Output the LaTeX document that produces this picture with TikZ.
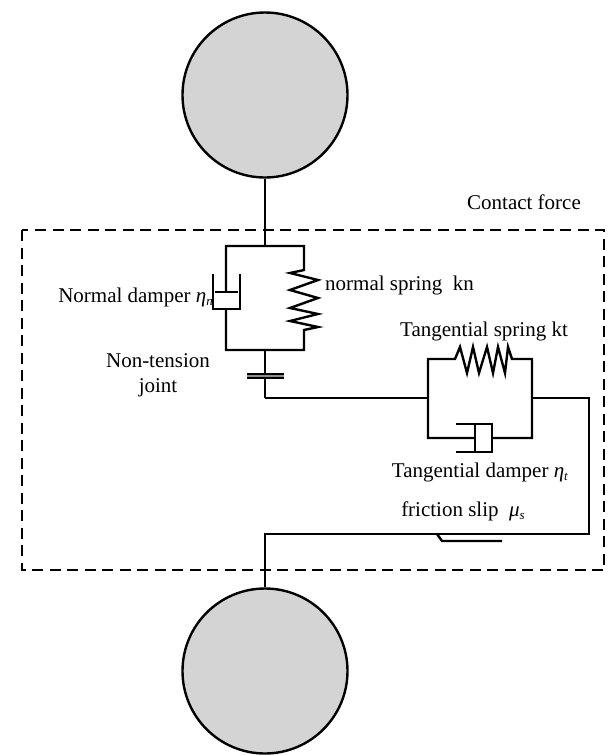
\documentclass[tikz,border=0pt]{standalone}
\usepackage{fontspec}
\setmainfont{Liberation Serif}
\newcommand{\itsub}[2]{\textit{#1}\raisebox{-3.5pt}{\fontsize{13}{14}\selectfont\textit{#2}}}
\tikzset{
  wire/.style={line width=2.4pt,line join=miter},
  thinwire/.style={line width=1.6pt},
  ball/.style={circle,draw,line width=2.4pt,fill=black!17,minimum size=165pt,inner sep=0pt},
  lab/.style={font=\fontsize{21}{25}\selectfont,inner sep=0pt,align=center}
}
\begin{document}
\begin{tikzpicture}[x=1pt,y=-1pt]
\useasboundingbox (0,0) rectangle (609,755);
% particles
\node[ball] (top) at (265,95){};
\node[ball] (bot) at (265,671){};
% contact box
\draw[line width=1.6pt,dash pattern=on 11pt off 6.5pt] (22,230) rectangle (604,570);
% normal branch
\coordinate (na) at (265,246);
\coordinate (nb) at (265,350);
\coordinate (nl) at (226,246);
\coordinate (nr) at (304,246);
\coordinate (jn) at (265,398);
\draw[wire] (top) -- (na);
\draw[wire] (226,292) -- (nl) -- (nr) -- (304,270) -- (290,273) -- (318,280) -- (290,290) -- (318,298) -- (290,308) -- (318,314) -- (290,321) -- (318,327) -- (304,330) -- (304,350) -- (226,350) -- (226,309);
\draw[wire] (213,274) -- (213,309) -- (240,309) -- (240,274);
\draw[thinwire] (215,292) -- (238,292);
% joint
\draw[wire] (nb) -- (265,374);
\draw[line width=3pt,black!45] (247,376) -- (284,376);
\draw[thinwire] (247,374) -- (284,374);
\draw[thinwire] (247,378) -- (284,378);
\draw[wire] (265,378) -- (jn);
% tangential branch
\coordinate (ta) at (428,398);
\coordinate (tb) at (532,398);
\draw[wire] (jn) -- (ta);
\draw[wire] (475,438) -- (428,438) -- (428,359) -- (455,359) -- (460,347) -- (467,373) -- (473,347) -- (479,373) -- (487,347) -- (493,373) -- (498,347) -- (505,373) -- (508,347) -- (512,359) -- (532,359) -- (532,438) -- (492,438);
\draw[wire] (456,424) -- (492,424) -- (492,452) -- (456,452);
\draw[wire] (475,424) -- (475,452);
% slip
\coordinate (sl) at (265,534);
\draw[wire] (tb) -- (589,398) -- (589,534) -- (sl) -- (bot);
\draw[wire] (437,534) -- (442,541) -- (502,541);
% labels
\node[lab] (fct) at (524,202){Contact force};
\node[lab,anchor=east] (fnd) at (213,297){Normal damper \itsub{η}{n}};
\node[lab,anchor=west] (fns) at (325,285){normal spring\ \ kn};
\node[lab] (fjt) at (158,375){Non-tension\\joint};
\node[lab] (fts) at (484,331){Tangential spring kt};
\node[lab] (ftd) at (480,472){Tangential damper \itsub{η}{t}};
\node[lab] (ffs) at (463,511){friction slip\ \ \itsub{μ}{s}};
\end{tikzpicture}
\end{document}
